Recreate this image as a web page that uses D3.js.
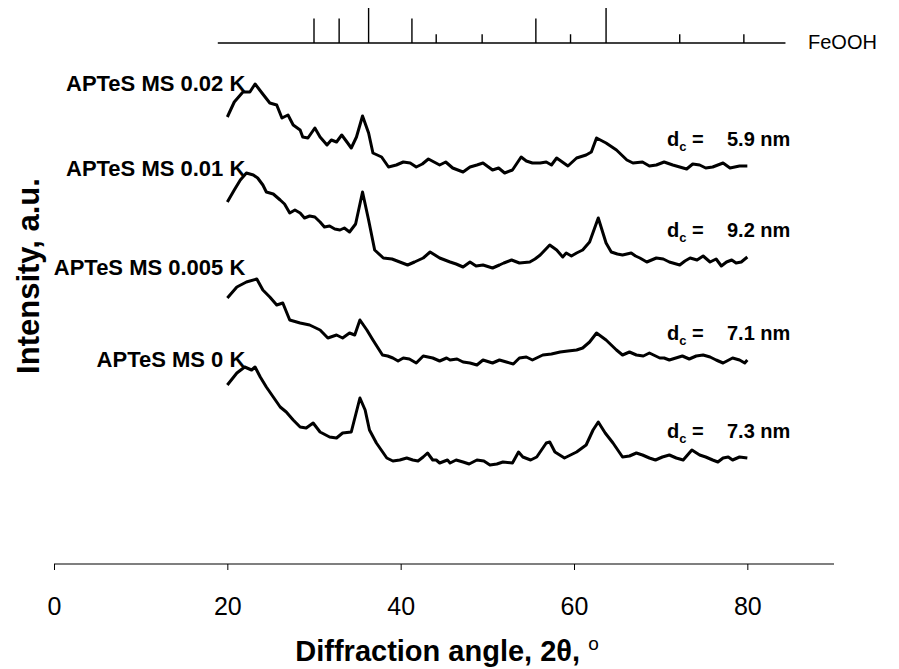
<!DOCTYPE html>
<html>
<head>
<meta charset="utf-8">
<script src="https://cdn.jsdelivr.net/npm/d3@7/dist/d3.min.js"></script>
<style>
  html, body { margin: 0; padding: 0; background: #fff; }
  svg { display: block; font-family: "Liberation Sans", Arial, sans-serif; }
</style>
</head>
<body>
<svg id="chart" width="899" height="669"></svg>
<script>
// ---- data -------------------------------------------------------------
const angleTicks = [0, 20, 40, 60, 80];

// FeOOH reference pattern: peak positions (2θ) and relative intensities
const feoohPeaks = [30.0, 32.9, 36.3, 41.3, 44.1, 49.4, 55.6, 59.6, 63.7, 72.2, 79.6];
const feoohIntensity = [70, 70, 100, 70, 25, 25, 70, 25, 100, 25, 25];
const feoohRange = [18.9, 84.4];

const sampleNames = ["APTeS MS 0.02 K", "APTeS MS 0.01 K", "APTeS MS 0.005 K", "APTeS MS 0 K"];
const crystalliteSize = [5.9, 9.2, 7.1, 7.3];

// diffractograms, stacked (intensity in a.u., offset included): [2θ, I]
const pattern002 = [
  [20.0,447],[20.8,462],[21.8,472],[22.6,472],[23.2,480],[24.0,471],[24.9,461],[25.7,459],
  [26.3,446],[27.0,449],[27.6,439],[28.4,434],[28.7,427],[29.3,426],[30.1,436],[30.7,427],
  [31.5,419],[32.0,424],[32.6,422],[33.2,429],[33.8,422],[34.3,416],[34.9,427],[35.6,448],
  [36.3,431],[36.8,411],[37.8,407],[38.6,397],[39.5,399],[40.3,402],[41.1,401],[41.8,397],
  [42.5,400],[43.2,405],[44.5,399],[45.2,402],[46.0,396],[47.2,392],[48.0,397],[48.8,399],
  [49.5,401],[50.6,394],[51.3,396],[52.0,391],[52.9,394],[53.9,407],[54.5,403],[55.2,401],
  [56.1,401],[56.8,402],[57.4,399],[58.0,406],[59.3,398],[60.3,406],[61.4,409],[62.0,412],
  [62.6,426],[63.7,421],[64.9,414],[66.1,404],[66.8,401],[67.9,402],[68.7,398],[69.5,399],
  [70.4,402],[71.4,399],[72.2,397],[73.0,395],[73.7,400],[74.5,399],[75.2,396],[76.0,397],
  [77.2,401],[78.0,396],[79.1,398],[80.0,398]
];
const pattern001 = [
  [20.0,362],[20.8,374],[21.5,384],[22.2,391],[23.0,389],[23.5,386],[24.1,379],[24.5,372],
  [25.3,370],[26.1,364],[26.6,360],[27.2,351],[27.8,354],[28.4,351],[28.9,346],[29.5,348],
  [30.1,347],[30.7,342],[31.2,337],[31.8,338],[32.4,335],[33.0,334],[33.5,336],[34.1,332],
  [34.8,340],[35.6,372],[36.3,344],[37.0,314],[38.0,306],[39.0,305],[39.9,302],[40.8,299],
  [41.6,302],[42.6,306],[43.4,312],[44.5,306],[45.7,302],[46.4,300],[47.2,297],[48.0,302],
  [48.7,298],[49.5,299],[50.6,296],[51.4,299],[51.9,301],[52.8,304],[53.7,301],[54.9,302],
  [55.5,305],[56.1,309],[57.2,319],[58.0,314],[58.7,307],[59.1,311],[59.7,308],[60.3,311],
  [61.0,314],[61.8,322],[62.8,346],[63.7,321],[64.3,312],[65.0,310],[65.6,309],[66.6,311],
  [67.1,308],[67.6,306],[68.4,302],[69.5,306],[70.3,305],[71.0,302],[72.2,299],[72.8,303],
  [73.4,306],[74.2,304],[74.9,308],[75.7,302],[76.4,305],[77.0,298],[77.6,302],[78.2,304],
  [78.7,301],[79.3,302],[80.0,307]
];
const pattern0005 = [
  [20.0,266],[21.1,277],[22.2,282],[23.4,285],[24.1,274],[24.9,267],[25.7,259],[26.4,261],
  [27.2,244],[28.4,241],[29.5,239],[30.7,234],[31.6,226],[32.6,229],[33.3,226],[34.1,231],
  [34.7,229],[35.3,244],[36.1,234],[36.8,224],[37.9,209],[38.5,208],[39.1,206],[39.7,203],
  [40.3,206],[41.0,205],[41.8,201],[42.6,208],[43.7,206],[44.5,203],[45.3,206],[45.7,204],
  [46.5,205],[47.2,202],[48.0,201],[48.8,199],[49.5,204],[50.6,201],[51.4,204],[52.2,202],
  [53.0,200],[53.7,206],[54.5,207],[55.2,204],[56.4,209],[57.4,210],[58.4,212],[59.3,213],
  [60.3,214],[61.0,216],[61.8,222],[62.6,231],[63.7,224],[64.9,214],[65.6,209],[66.4,212],
  [67.2,209],[68.0,208],[68.7,211],[69.9,206],[70.4,206],[71.0,204],[72.5,208],[73.3,205],
  [74.1,208],[74.9,209],[75.7,207],[76.4,204],[77.2,201],[78.3,206],[79.1,204],[79.7,201],
  [80.0,204]
];
const pattern0 = [
  [20.0,179],[21.1,191],[22.0,197],[22.8,194],[23.2,197],[23.8,187],[24.5,177],[25.3,167],
  [26.1,157],[26.8,152],[27.6,144],[28.4,137],[29.1,136],[29.9,141],[30.7,132],[31.8,127],
  [32.6,126],[33.3,131],[34.3,132],[35.3,166],[35.9,154],[36.4,134],[37.2,121],[38.4,106],
  [39.1,103],[39.9,104],[40.7,106],[41.4,104],[42.0,103],[42.6,107],[43.1,111],[43.7,104],
  [44.1,104],[44.5,101],[45.4,104],[45.7,101],[46.4,104],[47.2,102],[47.9,100],[48.8,104],
  [49.6,103],[50.3,99],[51.1,100],[51.8,102],[52.9,101],[53.6,112],[54.1,107],[55.0,104],
  [55.7,107],[56.8,121],[57.2,122],[57.8,112],[58.9,106],[59.6,109],[60.3,112],[61.4,119],
  [62.2,134],[62.8,142],[63.6,131],[64.5,121],[65.6,107],[66.4,108],[67.2,111],[67.9,109],
  [68.7,106],[69.4,104],[70.2,107],[71.0,109],[71.8,106],[72.6,104],[73.6,114],[74.5,109],
  [75.2,107],[76.0,104],[76.6,102],[77.2,106],[77.8,107],[78.3,104],[79.1,107],[80.0,106]
];
const patterns = [pattern002, pattern001, pattern0005, pattern0];

// ---- layout ------------------------------------------------------------
const svg = d3.select("#chart");
const W = 899, H = 669;
svg.append("rect").attr("width", W).attr("height", H).attr("fill", "#fff");

const x = d3.scaleLinear().domain([0, 90]).range([54, 834]);
const y = d3.scaleLinear().domain([0, 564]).range([564, 0]);
const yStick = d3.scaleLinear().domain([0, 100]).range([43, 8]);

// ---- FeOOH stick pattern ----------------------------------------------
const ref = svg.append("g").attr("class", "reference");
ref.append("line")
  .attr("x1", x(feoohRange[0])).attr("x2", x(feoohRange[1]))
  .attr("y1", yStick(0)).attr("y2", yStick(0))
  .attr("stroke", "#000").attr("stroke-width", 1.3);
ref.selectAll("line.peak").data(feoohPeaks).join("line")
  .attr("class", "peak")
  .attr("x1", d => x(d)).attr("x2", d => x(d))
  .attr("y1", yStick(0)).attr("y2", (d, i) => yStick(feoohIntensity[i]))
  .attr("stroke", "#000").attr("stroke-width", 1.4);
ref.append("text")
  .attr("x", 808).attr("y", 49)
  .attr("font-size", 20).text("FeOOH");

// ---- diffractograms ----------------------------------------------------
const line = d3.line().x(d => x(d[0])).y(d => y(d[1])).curve(d3.curveLinear);
svg.append("g").selectAll("path").data(patterns).join("path")
  .attr("d", line)
  .attr("fill", "none").attr("stroke", "#000")
  .attr("stroke-width", 3).attr("stroke-linejoin", "round");

// sample names, right-aligned just after the start of each trace
const nameBaseline = [91, 176, 275, 367];
svg.append("g").selectAll("text").data(sampleNames).join("text")
  .attr("x", x(20) + 18)
  .attr("y", (d, i) => nameBaseline[i])
  .attr("text-anchor", "end")
  .attr("font-size", 22).attr("font-weight", "bold")
  .text(d => d);

// crystallite size labels above the end of each trace
const sizeLabels = svg.append("g").selectAll("text").data(crystalliteSize).join("text")
  .attr("x", 667)
  .attr("y", (d, i) => y(patterns[i][patterns[i].length - 1][1]) - 20)
  .attr("font-size", 20).attr("font-weight", "bold");
sizeLabels.append("tspan").text("d");
sizeLabels.append("tspan").attr("dy", 5).attr("font-size", 13).text("c");
sizeLabels.append("tspan").attr("dy", -5).text(" =");
sizeLabels.append("tspan").attr("x", 727).text(d => d.toFixed(1) + " nm");

// ---- x axis --------------------------------------------------------------
const axis = svg.append("g").attr("transform", "translate(0,564)")
  .call(d3.axisBottom(x).tickValues(angleTicks).tickSize(6).tickPadding(27));
axis.select(".domain").attr("stroke", "#000").attr("stroke-width", 1.2)
  .attr("d", `M${x(0)},0H${x(90)}`);
axis.selectAll(".tick line").attr("stroke", "#000").attr("stroke-width", 1);
axis.selectAll(".tick text")
  .attr("font-family", "'Liberation Sans', Arial, sans-serif")
  .attr("font-size", 25).attr("fill", "#000");

const xTitle = svg.append("text")
  .attr("x", 447).attr("y", 661)
  .attr("text-anchor", "middle")
  .attr("font-size", 29).attr("font-weight", "bold");
xTitle.append("tspan").text("Diffraction angle, 2θ, ");
xTitle.append("tspan").attr("dy", -11).attr("font-size", 19).attr("font-weight", "normal").text("o");

svg.append("text")
  .attr("transform", "translate(39,276) rotate(-90)")
  .attr("text-anchor", "middle")
  .attr("font-size", 31).attr("font-weight", "bold")
  .text("Intensity, a.u.");
</script>
</body>
</html>
